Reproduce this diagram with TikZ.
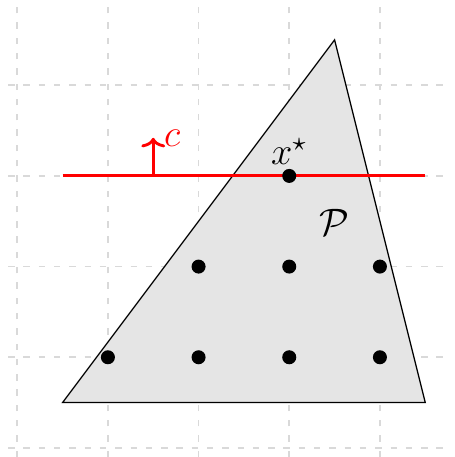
\documentclass[tikz,border=0pt]{standalone}
\usetikzlibrary{arrows.meta}
\begin{document}
\begin{tikzpicture}[
  gridline/.style={draw=black!15, line width=0.5pt, dash pattern=on 2pt off 2.8pt},
  poly/.style={draw=black, fill=black!10, line width=0.4pt},
  pt/.style={circle, fill=black, inner sep=0pt, minimum size=4.4pt},
  redline/.style={draw=red, line width=0.9pt},
  lbl/.style={font=\large, inner sep=0pt},
]
\useasboundingbox (-0.19,-0.1) rectangle (4.82,4.94);
% grid
\foreach \x in {0,1,2,3,4} \draw[gridline] (\x,-0.1) -- (\x,4.94);
\foreach \y in {0,1,2,3,4} \draw[gridline] (-0.1,\y) -- (4.75,\y);
% polytope
\coordinate (A) at (0.5,0.5);
\coordinate (B) at (3.5,4.5);
\coordinate (C) at (4.5,0.5);
\draw[poly] (A) -- (B) -- (C) -- cycle;
\node[lbl] (P) at (3.5,2.49) {$\mathcal{P}$};
% objective line
\coordinate (L) at (0.5,3);
\coordinate (R) at (4.5,3);
\draw[redline] (L) -- (R);
\coordinate (a0) at (1.5,3);
\coordinate (a1) at (1.5,3.42);
\draw[redline, -{To[length=3pt, width=7.5pt]}] (a0) -- (a1);
\node[lbl, red] (c) at (1.71,3.41) {$c$};
% points
\foreach \x/\y [count=\i] in {1/1,2/1,3/1,4/1,2/2,3/2,4/2}
  \node[pt] (p\i) at (\x,\y) {};
\node[pt] (xs) at (3,3) {};
\node[lbl] (xsl) at (3,3.265) {$x^\star$};
\end{tikzpicture}
\end{document}
